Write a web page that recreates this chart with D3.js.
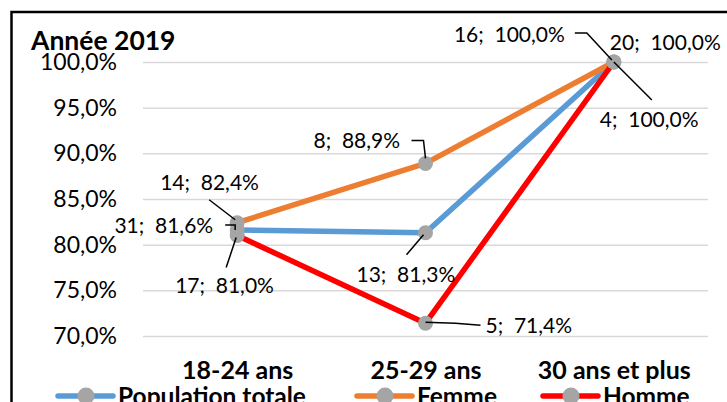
<!DOCTYPE html>
<html>
<head>
<meta charset="utf-8">
<script src="https://cdn.jsdelivr.net/npm/d3@7"></script>
<style>
  body { margin: 0; background: #fff; }
  svg { display: block; font-family: Lato, "Liberation Sans", sans-serif; }
</style>
</head>
<body>
<script>
// Data
const categories = ["18-24 ans", "25-29 ans", "30 ans et plus"];
const seriesNames = ["Population totale", "Femme", "Homme"];
const totalCounts = [31, 13, 20];
const totalRates = [0.816, 0.813, 1.0];
const femmeCounts = [14, 8, 16];
const femmeRates = [0.824, 0.889, 1.0];
const hommeCounts = [17, 5, 4];
const hommeRates = [0.81, 0.714, 1.0];
const yTicks = [0.7, 0.75, 0.8, 0.85, 0.9, 0.95, 1.0];

// Canvas config
const config = { width: 727, height: 402 };
const margin = { left: 143, right: 19, top: 62, bottom: 66 };
const colors = ["#5b9bd5", "#ed7d31", "#ff0000"];

// label placement relative to the point: dx, dy, anchor, leader points
const labelLayout = [
  [
    { dx: -24, dy: 3, anchor: "end", leader: [[-12, -5], [-2, -5], [-2, 0]] },
    { dx: -69, dy: 49, anchor: "start", leader: [[-19, 22], [-2, 2]] },
    { dx: -4, dy: -12, anchor: "start", leader: null }
  ],
  [
    { dx: -77, dy: -33, anchor: "start", leader: [[-28, -23], [-2, -3]] },
    { dx: -112, dy: -15, anchor: "start", leader: [[-14, -23], [-2, -23], [0, -5]] },
    { dx: -49, dy: -20, anchor: "end", leader: [[-39, -29], [-27, -29], [-2, -2]] }
  ],
  [
    { dx: -62, dy: 57, anchor: "start", leader: [[-11, 32], [-1, 2]] },
    { dx: 60, dy: 10, anchor: "start", leader: [[0, -1], [30, 0], [55, 2]] },
    { dx: -14, dy: 65, anchor: "start", leader: [[38, 38], [0, 0]] }
  ]
];
const legendX = [58, 357, 543];

const series = [
  { name: seriesNames[0], counts: totalCounts, rates: totalRates },
  { name: seriesNames[1], counts: femmeCounts, rates: femmeRates },
  { name: seriesNames[2], counts: hommeCounts, rates: hommeRates }
];

const fr = d3.formatLocale({ decimal: ",", thousands: " ", grouping: [3], currency: ["", " €"] });
const pct = fr.format(".1%");

const svg = d3
  .select("body")
  .append("svg")
  .attr("width", config.width)
  .attr("height", config.height);

svg.append("rect")
  .attr("width", config.width)
  .attr("height", config.height)
  .attr("fill", "#fff");

// chart frame (runs past the right and bottom edges)
svg.append("rect")
  .attr("x", 11.5)
  .attr("y", 12)
  .attr("width", 760)
  .attr("height", 460)
  .attr("fill", "none")
  .attr("stroke", "#000")
  .attr("stroke-width", 2.5);

const x = d3.scalePoint()
  .domain(categories)
  .range([margin.left, config.width - margin.right])
  .padding(0.5);

const y = d3.scaleLinear()
  .domain([0.7, 1.0])
  .range([config.height - margin.bottom, margin.top]);

// y axis + gridlines
const yAxis = svg.append("g")
  .attr("transform", `translate(${margin.left},0)`)
  .call(d3.axisLeft(y)
    .tickValues(yTicks)
    .tickFormat(pct)
    .tickSize(-(config.width - margin.left - margin.right))
    .tickPadding(26));
yAxis.select(".domain").remove();
yAxis.selectAll("line").attr("stroke", "#d9d9d9").attr("stroke-width", 1.5);
yAxis.selectAll("text")
  .attr("font-size", 23)
  .attr("font-family", "Lato")
  .attr("fill", "#000");

// x axis labels
const xAxis = svg.append("g")
  .attr("transform", `translate(0,${config.height - margin.bottom})`)
  .call(d3.axisBottom(x).tickSize(0).tickPadding(0));
xAxis.select(".domain").remove();
xAxis.selectAll("text")
  .attr("y", 43)
  .attr("dy", 0)
  .attr("font-size", 25)
  .attr("font-weight", "bold")
  .attr("font-family", "Lato")
  .attr("fill", "#000");

// title
svg.append("text")
  .attr("x", 31)
  .attr("y", 50)
  .attr("font-size", 26.5)
  .attr("font-weight", "bold")
  .attr("font-family", "Lato")
  .text("Année 2019");

const line = d3.line()
  .x((d, i) => x(categories[i]))
  .y(d => y(d));

series.forEach((s, si) => {
  svg.append("path")
    .datum(s.rates)
    .attr("d", line)
    .attr("fill", "none")
    .attr("stroke", colors[si])
    .attr("stroke-width", 5.5)
    .attr("stroke-linejoin", "round");

  svg.selectAll(".marker-" + si)
    .data(s.rates)
    .enter()
    .append("circle")
    .attr("class", "marker-" + si)
    .attr("cx", (d, i) => x(categories[i]))
    .attr("cy", d => y(d))
    .attr("r", 7.5)
    .attr("fill", "#a5a5a5");
});

// data labels with leader lines
series.forEach((s, si) => {
  s.rates.forEach((v, i) => {
    const px = x(categories[i]);
    const py = y(v);
    const lay = labelLayout[si][i];
    if (lay.leader) {
      svg.append("path")
        .attr("d", d3.line()(lay.leader.map(p => [px + p[0], py + p[1]])))
        .attr("fill", "none")
        .attr("stroke", "#000")
        .attr("stroke-width", 1.5);
    }
    svg.append("text")
      .attr("x", px + lay.dx)
      .attr("y", py + lay.dy)
      .attr("text-anchor", lay.anchor)
      .attr("font-size", 21)
      .attr("font-family", "Lato")
      .attr("xml:space", "preserve")
      .style("white-space", "pre")
      .text(`${s.counts[i]};  ${pct(v)}`);
  });
});

// legend
const legend = svg.append("g").attr("id", "legend");
series.forEach((s, si) => {
  const g = legend.append("g").attr("transform", `translate(${legendX[si]},396)`);
  g.append("line")
    .attr("x1", 0).attr("x2", 55)
    .attr("stroke", colors[si])
    .attr("stroke-width", 5.5)
    .attr("stroke-linecap", "round");
  g.append("circle").attr("cx", 28).attr("r", 8.5).attr("fill", "#a5a5a5");
  g.append("text")
    .attr("x", 60)
    .attr("y", 9)
    .attr("font-size", 24.5)
    .attr("font-weight", "bold")
    .attr("font-family", "Lato")
    .text(s.name);
});
</script>
</body>
</html>
